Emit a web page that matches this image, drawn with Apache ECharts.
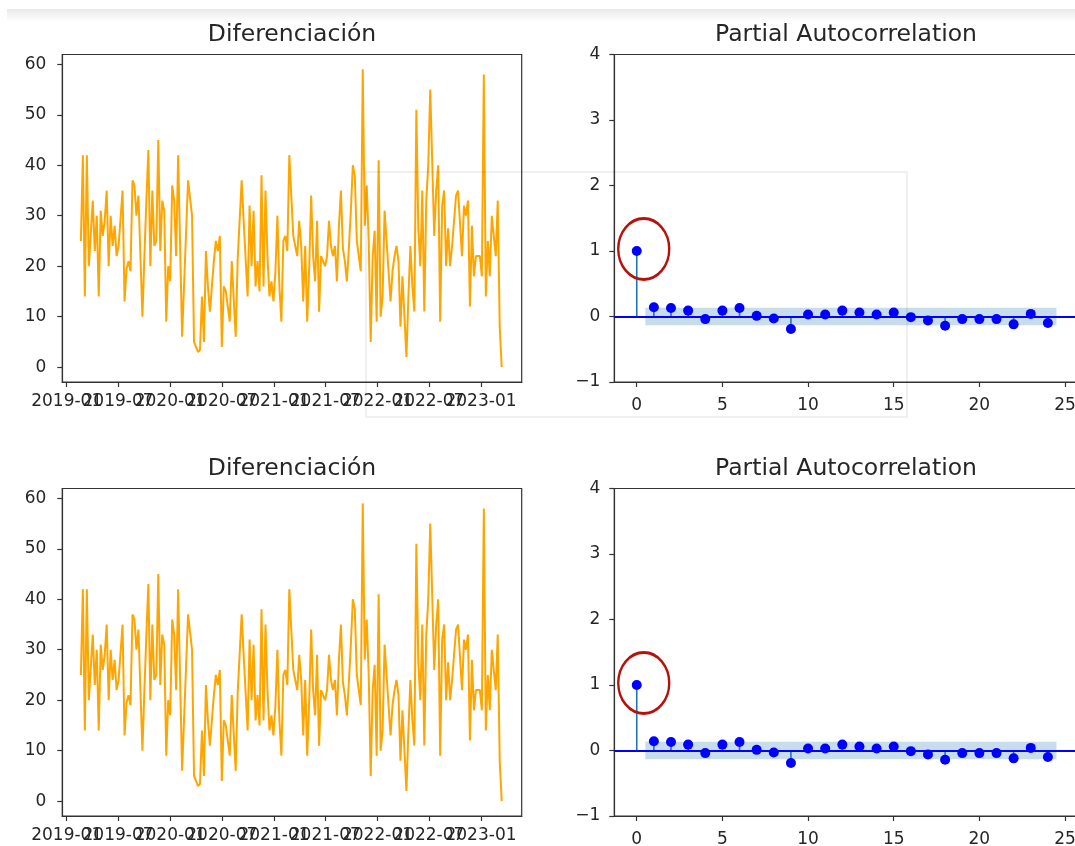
<!DOCTYPE html>
<html>
<head>
<meta charset="utf-8">
<script src="https://cdn.jsdelivr.net/npm/echarts@6/dist/echarts.min.js"></script>
<style>
html,body{margin:0;padding:0;overflow:hidden;background:#fff;width:1075px;height:846px}
#c{width:1090px;height:846px}
</style>
</head>
<body>
<div id="c"></div>
<script>
// ---------- data ----------
const startDate = '2019-02-20';          // first weekly observation
const weekIdx = [0,1,2,3,4,6,7,8,9,10,11,12,13,14,15,16,17,18,19,20,21,22,23,24,25,26,27,28,29,31,32,33,34,35,36,37,38,39,40,41,42,43,44,45,46,47,48,49,51,
54,55,56,57,59,60,61,62,63,64,65,67,68,69,70,71,72,73,75,76,77,78,79,81,82,84,85,86,87,88,89,90,91,92,93,94,95,96,97,98,99,100,101,102,103,104,105,
107,108,109,110,111,112,113,114,115,116,117,118,119,120,121,122,123,124,125,126,127,128,129,130,131,132,133,134,135,136,137,138,139,141,142,143,144,145,146,147,148,149,150,151,152,153,154,
156,157,158,159,160,161,162,163,164,165,166,167,168,169,170,171,172,173,174,175,176,177,178,179,180,181,182,183,184,185,186,187,188,189,190,192,193,194,195,196,197,198,199,200,201,202,203,204,205,206,207,208,209,210,211,212];
const diffValues = [25,42,14,42,20,33,23,30,14,31,26,29,35,20,30,24,28,22,24,24,35,13,19.5,21,19,37,36,30,34,10,22,33,43,20,35,24,25,45,23,33,31,9,20,17,36,33,22,42,6,
37,37,30,5,3,3.4,14,5,23,16,11,21,25,23,26,4,16,15,9,21,21,6,21.5,37,29,14,32,20,31,16,21,15,38,16,35,22,14,17,13,19,30,16,9,25,26,23,42,
26,24,22,29,24,13,24,9,19.5,34,22,17,29,11,22,21,20,22,29,24,22,24,17,28,35,23.5,21,17,23.5,31,40,38,25,19,59,28,36,25,5,22,27,9,41,10,14,31,25,
13,19,22,24,21,8,18,10,2,14,24,16,11,51,27.5,20,35,11,33,40,55,40.7,26,35,40,9,32,35,20,27.5,20,24,29,34,35,22,32,30,33,12,28,18,22,22,22,18,58,14,25,18,30,30,22,33,8,0];
const dateTickLabels = ['2019-01','2019-07','2020-01','2020-07','2021-01','2021-07','2022-01','2022-07','2023-01'];
const diffYTicks = [0,10,20,30,40,50,60];

const lags = [0,1,2,3,4,5,6,7,8,9,10,11,12,13,14,15,16,17,18,19,20,21,22,23,24];
const pacfValues = [1.0,0.14,0.13,0.09,-0.04,0.09,0.13,0.01,-0.03,-0.19,0.03,0.03,0.09,0.06,0.03,0.06,-0.01,-0.06,-0.14,-0.04,-0.04,-0.04,-0.12,0.04,-0.10];
const confBand = 0.134;
const lagTicks = [0,5,10,15,20,25];
const pacfYTicks = [-1,0,1,2,3,4];
const panelTitles = ['Diferenciación','Partial Autocorrelation'];

// ---------- helpers ----------
function ts(s){ const p = s.split('-').map(Number); return new Date(p[0], p[1]-1, p[2]||1).getTime(); }
const DAY = 864e5;
const t0 = ts(startDate);
const lineData = weekIdx.map((w,i)=>[t0 + w*7*DAY, diffValues[i]]);
const dateTickVals = dateTickLabels.map(ts);
// labels split over two overlaid axes so none of them gets auto-hidden (they overlap in the original)
const dateValsEven = dateTickVals.filter((v,i)=>i%2===0);
const dateValsOdd = dateTickVals.filter((v,i)=>i%2===1);
const pacfData = lags.map((l,i)=>[l, pacfValues[i]]);

const FONT = 'DejaVu Sans';
const TXT = '#262626';
const AX = '#333';

const rowTop = [54.5, 488.5];
const H = 327.5;
const leftG = {left:62.3, width:459.4};
const rightG = {left:614.3, width:463.4};
const DATE_MIN = ts('2019-01-01') - 15.5*DAY, DATE_MAX = ts('2023-01-01') + 143.5*DAY;

const grids=[], xAxes=[], yAxes=[], series=[], graphics=[];

function axisCommon(){
  return {
    axisLine:{show:true, onZero:false, lineStyle:{color:AX, width:1.2}},
    axisTick:{show:true, inside:false, length:5, lineStyle:{color:AX, width:1.2}},
    splitLine:{show:false},
    minorTick:{show:false}
  };
}
const fmtDate = (v)=>{ const d=new Date(v); return d.getFullYear()+'-'+String(d.getMonth()+1).padStart(2,'0'); };

rowTop.forEach((top, r)=>{
  grids.push({left:leftG.left, top:top, width:leftG.width, height:H, show:true, borderColor:AX, borderWidth:1.2, backgroundColor:'transparent', containLabel:false, outerBoundsMode:'none'});
  grids.push({left:rightG.left, top:top, width:rightG.width, height:H, show:true, borderColor:AX, borderWidth:1.2, backgroundColor:'transparent', containLabel:false, outerBoundsMode:'none'});
  const gL = 2*r, gR = 2*r+1;

  // date axes (two overlaid axes share the same scale)
  const xBase = xAxes.length;
  [dateValsEven, dateValsOdd].forEach((vals)=>{
    const xa = Object.assign(axisCommon(), {
      type:'value', gridIndex:gL, position:'bottom', offset:0, min:DATE_MIN, max:DATE_MAX,
      axisLabel:{show:true, margin:11, fontFamily:FONT, fontSize:17, color:TXT, customValues:vals,
        showMinLabel:true, showMaxLabel:true, hideOverlap:false, formatter:fmtDate}
    });
    xa.axisTick.customValues = vals;
    xAxes.push(xa);
  });
  const xLag = xAxes.length;
  const xb = Object.assign(axisCommon(), {
    type:'value', gridIndex:gR, position:'bottom', min:-1.31, max:25.74,
    axisLabel:{show:true, margin:15, fontFamily:FONT, fontSize:17, color:TXT, customValues:lagTicks,
      showMinLabel:true, showMaxLabel:true}
  });
  xb.axisTick.customValues = lagTicks;
  xAxes.push(xb);

  const yDiff = yAxes.length;
  const ya = Object.assign(axisCommon(), {
    type:'value', gridIndex:gL, position:'left', min:-2.95, max:61.95,
    axisLabel:{show:true, margin:16, fontFamily:FONT, fontSize:17, color:TXT, customValues:diffYTicks,
      showMinLabel:true, showMaxLabel:true}
  });
  ya.axisTick.customValues = diffYTicks;
  yAxes.push(ya);
  const yPacf = yAxes.length;
  const yb = Object.assign(axisCommon(), {
    type:'value', gridIndex:gR, position:'left', min:-1, max:4,
    axisLabel:{show:true, margin:14, fontFamily:FONT, fontSize:17, color:TXT, customValues:pacfYTicks,
      showMinLabel:true, showMaxLabel:true,
      formatter:(v)=>String(v).replace('-','\u2212')}
  });
  yb.axisTick.customValues = pacfYTicks;
  yAxes.push(yb);

  series.push({type:'line', xAxisIndex:xBase, yAxisIndex:yDiff, data:lineData, showSymbol:false, symbol:'none',
    lineStyle:{color:'#FFA500', width:2}, itemStyle:{color:'#FFA500'}, animation:false, silent:true, z:2, clip:true});

  series.push({type:'line', xAxisIndex:xLag, yAxisIndex:yPacf, data:[], z:1, silent:true, animation:false,
    markArea:{silent:true, itemStyle:{color:'rgba(31,119,180,0.25)', borderWidth:0},
      data:[[{coord:[lags[1]-0.5, -confBand]},{coord:[lags[lags.length-1]+0.5, confBand]}]]}});
  series.push({type:'bar', xAxisIndex:xLag, yAxisIndex:yPacf, data:pacfData, barWidth:1.6, z:2, silent:true, animation:false,
    itemStyle:{color:'#1f77b4'}});
  series.push({type:'line', xAxisIndex:xLag, yAxisIndex:yPacf, data:[], z:3, silent:true, animation:false,
    markLine:{silent:true, symbol:['none','none'], label:{show:false}, animation:false,
      lineStyle:{color:'#0000ff', width:1.8, type:'solid'}, data:[{yAxis:0}]}});
  series.push({type:'scatter', xAxisIndex:xLag, yAxisIndex:yPacf, data:pacfData, symbol:'circle', symbolSize:10, z:4,
    itemStyle:{color:'#0000ff', opacity:1}, silent:true, animation:false});
  series.push({type:'scatter', xAxisIndex:xLag, yAxisIndex:yPacf, data:[pacfData[0]], symbol:'circle', symbolSize:[51,61],
    symbolOffset:[7,-2], z:5, silent:true, animation:false,
    itemStyle:{color:'rgba(0,0,0,0)', borderColor:'#b5120c', borderWidth:2.6, opacity:1}});

  graphics.push({type:'text', x:leftG.left+leftG.width/2, y:top-20, silent:true,
    style:{text:panelTitles[0], fontFamily:FONT, fontSize:23.5, fill:TXT, align:'center', verticalAlign:'middle'}});
  graphics.push({type:'text', x:rightG.left+rightG.width/2, y:top-20, silent:true,
    style:{text:panelTitles[1], fontFamily:FONT, fontSize:23.5, fill:TXT, align:'center', verticalAlign:'middle'}});
});

graphics.push({type:'rect', silent:true, z:-10, shape:{x:7, y:9, width:1083, height:13},
  style:{fill:new echarts.graphic.LinearGradient(0,0,0,1,[{offset:0,color:'#e9e9e9'},{offset:1,color:'#ffffff'}])}});
graphics.push({type:'rect', silent:true, z:100, shape:{x:366, y:172, width:541, height:245},
  style:{fill:'none', stroke:'rgba(0,0,0,0.08)', lineWidth:1.5}});

const chart = echarts.init(document.getElementById('c'), null, {renderer:'canvas'});
chart.setOption({
  animation:false,
  backgroundColor:'#ffffff',
  grid:grids, xAxis:xAxes, yAxis:yAxes, series:series,
  graphic:{elements:graphics}
});
</script>
</body>
</html>
